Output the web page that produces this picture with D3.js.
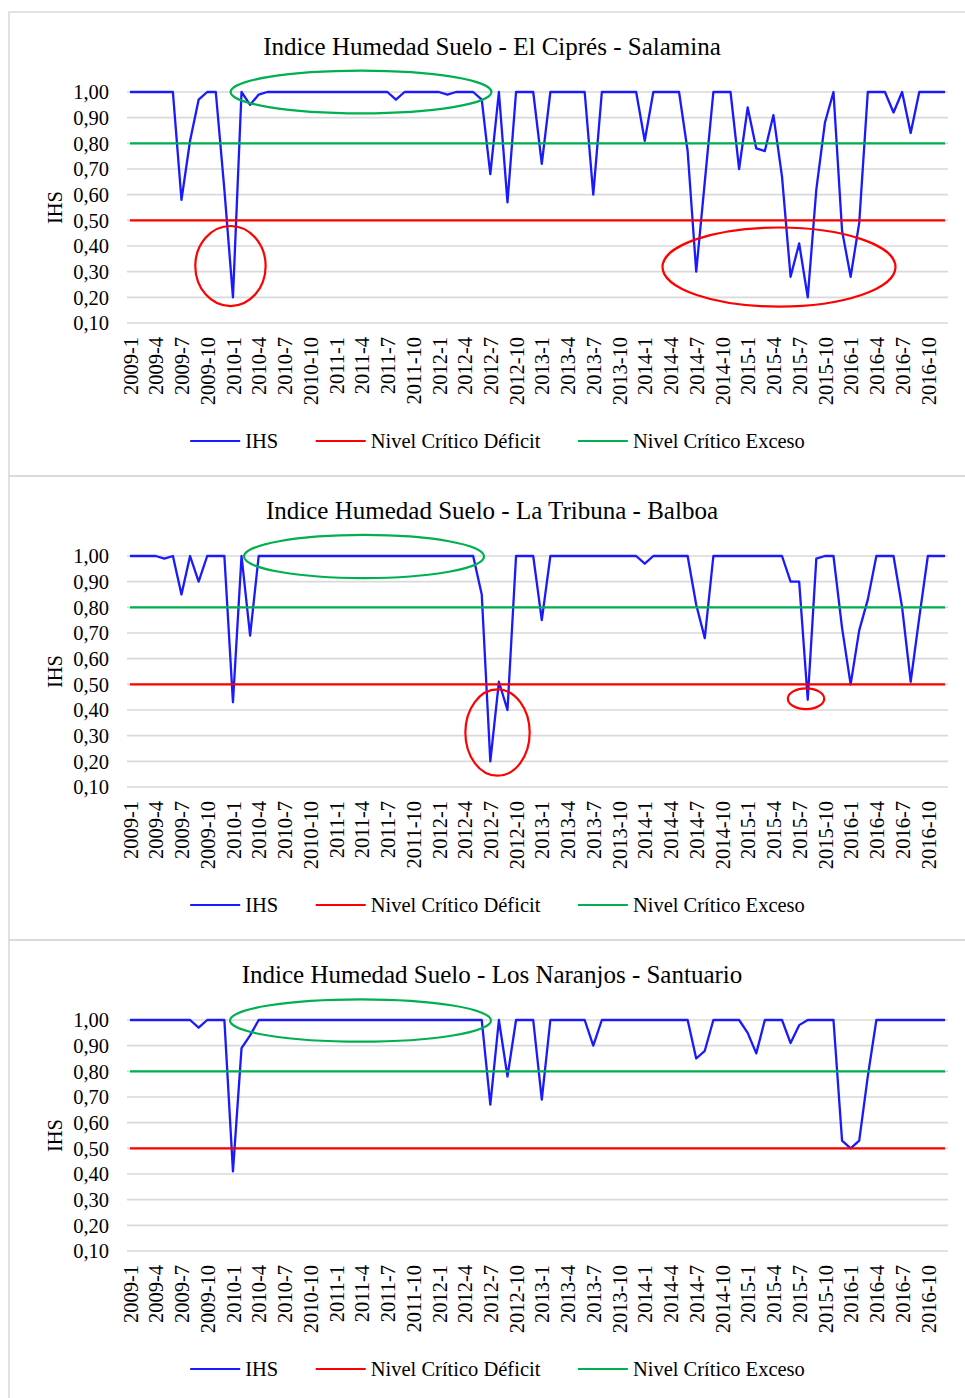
<!DOCTYPE html>
<html><head><meta charset="utf-8">
<script src="https://cdn.jsdelivr.net/npm/d3@7"></script>
<style>body{margin:0;background:#fff}svg{display:block}</style>
</head><body><svg id="c" width="965" height="1398"></svg>
<script>
// ---------- DATA ----------
const months = [
 "2009-1","2009-2","2009-3","2009-4","2009-5","2009-6","2009-7","2009-8","2009-9","2009-10","2009-11","2009-12",
 "2010-1","2010-2","2010-3","2010-4","2010-5","2010-6","2010-7","2010-8","2010-9","2010-10","2010-11","2010-12",
 "2011-1","2011-2","2011-3","2011-4","2011-5","2011-6","2011-7","2011-8","2011-9","2011-10","2011-11","2011-12",
 "2012-1","2012-2","2012-3","2012-4","2012-5","2012-6","2012-7","2012-8","2012-9","2012-10","2012-11","2012-12",
 "2013-1","2013-2","2013-3","2013-4","2013-5","2013-6","2013-7","2013-8","2013-9","2013-10","2013-11","2013-12",
 "2014-1","2014-2","2014-3","2014-4","2014-5","2014-6","2014-7","2014-8","2014-9","2014-10","2014-11","2014-12",
 "2015-1","2015-2","2015-3","2015-4","2015-5","2015-6","2015-7","2015-8","2015-9","2015-10","2015-11","2015-12",
 "2016-1","2016-2","2016-3","2016-4","2016-5","2016-6","2016-7","2016-8","2016-9","2016-10","2016-11","2016-12"
];
const tickLabels = [
 "2009-1","2009-4","2009-7","2009-10","2010-1","2010-4","2010-7","2010-10",
 "2011-1","2011-4","2011-7","2011-10","2012-1","2012-4","2012-7","2012-10",
 "2013-1","2013-4","2013-7","2013-10","2014-1","2014-4","2014-7","2014-10",
 "2015-1","2015-4","2015-7","2015-10","2016-1","2016-4","2016-7","2016-10"
];
const yTicks = [0.10,0.20,0.30,0.40,0.50,0.60,0.70,0.80,0.90,1.00];

const titles = [
 "Indice Humedad Suelo - El Ciprés - Salamina",
 "Indice Humedad Suelo - La Tribuna - Balboa",
 "Indice Humedad Suelo - Los Naranjos - Santuario"
];

const ihsCipres = [
 1,1,1,1,1,1,0.58,0.81,0.97,1,1,0.62,
 0.20,1,0.95,0.99,1,1,1,1,1,1,1,1,
 1,1,1,1,1,1,1,0.97,1,1,1,1,
 1,0.99,1,1,1,0.97,0.68,1,0.57,1,1,1,
 0.72,1,1,1,1,1,0.60,1,1,1,1,1,
 0.81,1,1,1,1,0.77,0.30,0.65,1,1,1,0.70,
 0.94,0.78,0.77,0.91,0.67,0.28,0.41,0.20,0.62,0.88,1,0.46,
 0.28,0.49,1,1,1,0.92,1,0.84,1,1,1,1
];
const ihsTribuna = [
 1,1,1,1,0.99,1,0.85,1,0.90,1,1,1,
 0.43,1,0.69,1,1,1,1,1,1,1,1,1,
 1,1,1,1,1,1,1,1,1,1,1,1,
 1,1,1,1,1,0.85,0.20,0.51,0.40,1,1,1,
 0.75,1,1,1,1,1,1,1,1,1,1,1,
 0.97,1,1,1,1,1,0.81,0.68,1,1,1,1,
 1,1,1,1,1,0.90,0.90,0.44,0.99,1,1,0.72,
 0.50,0.71,0.83,1,1,1,0.80,0.51,0.76,1,1,1
];
const ihsNaranjos = [
 1,1,1,1,1,1,1,1,0.97,1,1,1,
 0.41,0.89,0.94,1,1,1,1,1,1,1,1,1,
 1,1,1,1,1,1,1,1,1,1,1,1,
 1,1,1,1,1,1,0.67,1,0.78,1,1,1,
 0.69,1,1,1,1,1,0.90,1,1,1,1,1,
 1,1,1,1,1,1,0.85,0.88,1,1,1,1,
 0.95,0.87,1,1,1,0.91,0.98,1,1,1,1,0.53,
 0.50,0.53,0.78,1,1,1,1,1,1,1,1,1
];
const deficitLevel = 0.5;
const excesoLevel = 0.8;
const legendLabels = ["IHS","Nivel Crítico Déficit","Nivel Crítico Exceso"];

// annotation ellipses in data units (month index, IHS value)
const annotCipres = [
 {kind:"exceso", cx:26.93, cy:1.0, rx:15.2, ry:0.083},
 {kind:"deficit", cx:11.71, cy:0.322, rx:4.1, ry:0.156},
 {kind:"deficit", cx:75.65, cy:0.318, rx:13.58, ry:0.154}
];
const annotTribuna = [
 {kind:"exceso", cx:27.28, cy:0.998, rx:13.99, ry:0.084},
 {kind:"deficit", cx:42.84, cy:0.312, rx:3.75, ry:0.168},
 {kind:"deficit", cx:78.8, cy:0.444, rx:2.12, ry:0.0405}
];
const annotNaranjos = [
 {kind:"exceso", cx:26.87, cy:0.998, rx:15.21, ry:0.0826}
];

// ---------- DRAW ----------
const FONT = "'Liberation Serif','Times New Roman',serif";
const COL = {ihs:"#1a1aff", deficit:"#ff0000", exceso:"#00b050", grid:"#d9d9d9"};
const svg = d3.select("#c");
svg.append("rect").attr("width",965).attr("height",1398).attr("fill","#fff");

const panels = [
 {title:titles[0], values:ihsCipres, annots:annotCipres},
 {title:titles[1], values:ihsTribuna, annots:annotTribuna},
 {title:titles[2], values:ihsNaranjos, annots:annotNaranjos}
];
const PH = 464;
const x = d3.scalePoint().domain(months).range([130,945]);
const step = x.step();
const xi = i => x.range()[0] + i*step;

panels.forEach((p,k) => {
  const oy = k*PH;
  const g = svg.append("g");
  // frame
  g.append("rect").attr("x",9).attr("y",12+oy).attr("width",965).attr("height",PH)
    .attr("fill","none").attr("stroke",COL.grid).attr("stroke-width",1.5);
  const top = 92+oy, bot = 323+oy;
  const y = d3.scaleLinear().domain([0.1,1.0]).range([bot,top]);

  // title
  g.append("text").attr("x",492).attr("y",55+oy).attr("text-anchor","middle")
    .attr("font-family",FONT).attr("font-size",25).attr("fill","#000").text(p.title);

  // gridlines
  g.append("g").selectAll("line").data(yTicks).join("line")
    .attr("x1",127).attr("x2",948).attr("y1",d=>y(d)).attr("y2",d=>y(d))
    .attr("stroke",COL.grid).attr("stroke-width",1.6);

  // y axis
  const ya = g.append("g").attr("transform",`translate(127,0)`)
    .call(d3.axisLeft(y).tickValues(yTicks).tickSize(0).tickPadding(18)
      .tickFormat(d => d3.format(".2f")(d).replace(".",",")));
  ya.select(".domain").remove();
  ya.selectAll("text").attr("font-family",FONT).attr("font-size",20.5).attr("fill","#000").attr("dy","0.33em");

  // y label
  g.append("text").attr("transform",`translate(55,${(top+bot)/2}) rotate(-90)`)
    .attr("text-anchor","middle").attr("dy","0.35em")
    .attr("font-family",FONT).attr("font-size",20.5).attr("fill","#000").text("IHS");

  // x axis
  const xa = g.append("g").attr("transform",`translate(0,${bot})`)
    .call(d3.axisBottom(x).tickValues(tickLabels).tickSize(0).tickPadding(0));
  xa.select(".domain").remove();
  xa.selectAll("text").attr("font-family",FONT).attr("font-size",20.5).attr("fill","#000")
    .attr("text-anchor","end").attr("transform","translate(0,14) rotate(-90)")
    .attr("x",0).attr("y",0).attr("dy","0.35em");

  // IHS line
  const line = d3.line().x((d,i)=>x(months[i])).y(d=>y(d));
  g.append("path").datum(p.values).attr("d",line).attr("fill","none")
    .attr("stroke",COL.ihs).attr("stroke-width",2.3).attr("stroke-linejoin","round");
  // critical levels
  const lvl = (v,c) => g.append("path").datum(months.map(()=>v)).attr("d",line)
    .attr("fill","none").attr("stroke",c).attr("stroke-width",2.2);
  lvl(deficitLevel, COL.deficit);
  lvl(excesoLevel, COL.exceso);

  // annotations
  const pxPerUnit = y(0) - y(1);
  g.append("g").selectAll("ellipse").data(p.annots).join("ellipse")
    .attr("cx",d=>xi(d.cx)).attr("cy",d=>y(d.cy))
    .attr("rx",d=>d.rx*step).attr("ry",d=>d.ry*pxPerUnit)
    .attr("fill","none").attr("stroke",d=>COL[d.kind]).attr("stroke-width",2.2);

  // legend
  const lg = g.append("g").attr("transform",`translate(0,${441+oy})`);
  const cols = [COL.ihs, COL.deficit, COL.exceso];
  const items = legendLabels.map((t,j) => {
    const it = lg.append("g");
    it.append("line").attr("x1",0).attr("x2",50).attr("y1",0).attr("y2",0)
      .attr("stroke",cols[j]).attr("stroke-width",2.2);
    const tx = it.append("text").attr("x",55).attr("dy","0.33em")
      .attr("font-family",FONT).attr("font-size",20.5).attr("fill","#000").text(t);
    return {it, w: 55 + tx.node().getComputedTextLength()};
  });
  const gap = 37.5;
  const total = d3.sum(items, d=>d.w) + gap*(items.length-1);
  let cx = 497.5 - total/2;
  items.forEach(d => { d.it.attr("transform",`translate(${cx},0)`); cx += d.w + gap; });
});
</script></body></html>
